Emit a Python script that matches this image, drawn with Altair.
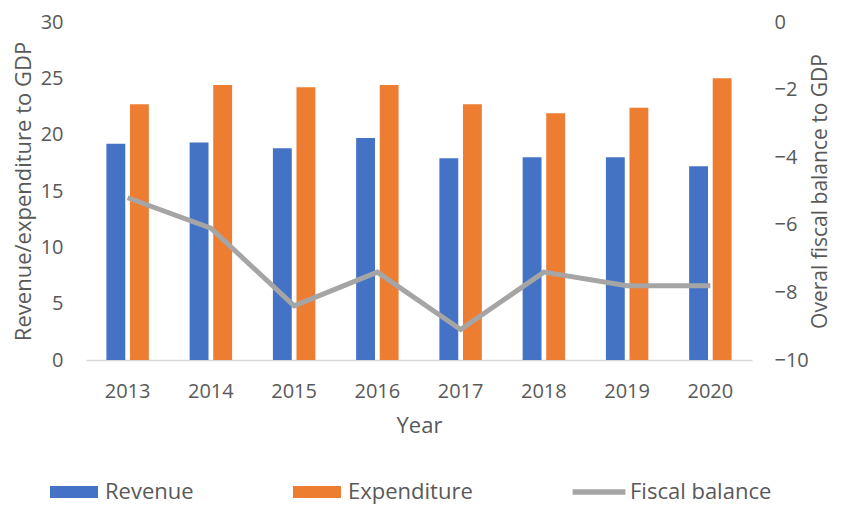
import altair as alt
import pandas as pd

years = ["2013", "2014", "2015", "2016", "2017", "2018", "2019", "2020"]
revenue = [19.2, 19.3, 18.8, 19.7, 17.9, 18.0, 18.0, 17.2]
expenditure = [22.7, 24.4, 24.2, 24.4, 22.7, 21.9, 22.4, 25.0]
fiscal_balance = [-5.2, -6.1, -8.4, -7.4, -9.1, -7.4, -7.8, -7.8]
series = ["Revenue", "Expenditure", "Fiscal balance"]
colors = ["#4472C4", "#ED7D31", "#A5A5A5"]
left_ticks = [0, 5, 10, 15, 20, 25, 30]
right_ticks = [-10, -8, -6, -4, -2, 0]

RECT = "M-1,-0.25H1V0.25H-1Z"
LINE = "M-1.1,-0.11H1.1V0.11H-1.1Z"

bars_df = pd.DataFrame({
    "Year": years * 2,
    "Series": ["Revenue"] * len(years) + ["Expenditure"] * len(years),
    "Value": revenue + expenditure,
})
line_df = pd.DataFrame({"Year": years, "Series": ["Fiscal balance"] * len(years), "Value": fiscal_balance})

FONT = "Open Sans"
TXT = "#595959"
H = 338

color_scale = alt.Scale(domain=series, range=colors)

x_enc = alt.X(
    "Year:N",
    scale=alt.Scale(paddingInner=0.49, paddingOuter=0.245),
    axis=alt.Axis(title="Year", labelAngle=0, ticks=False, domainColor="#D9D9D9",
                  domainWidth=1.5, labelPadding=21, titlePadding=14),
)

bars = alt.Chart(bars_df).mark_bar().encode(
    x=x_enc,
    xOffset=alt.XOffset("Series:N", sort=["Revenue", "Expenditure"],
                        scale=alt.Scale(domain=["Revenue", "Expenditure"], paddingInner=0.2, paddingOuter=0)),
    y=alt.Y("Value:Q", scale=alt.Scale(domain=[0, 30]),
            axis=alt.Axis(values=left_ticks, title="Revenue/expenditure to GDP", grid=False,
                          domain=False, ticks=False, labelPadding=23, titlePadding=5)),
    color=alt.Color("Series:N", scale=color_scale, title=None),
)

line = alt.Chart(line_df).mark_line(strokeWidth=5, color="#A5A5A5").encode(
    x=alt.X("Year:N"),
    y=alt.Y("Value:Q", scale=alt.Scale(domain=[-10, 0]),
            axis=alt.Axis(orient="right", values=right_ticks, title="Overal fiscal balance to GDP",
                          grid=False, domain=False, ticks=False, labelPadding=22, titlePadding=1,
                          titleAngle=270, titleBaseline="top", titleFontSize=21)),
    color=alt.Color("Series:N", scale=color_scale, title=None),
)

legend_pts = alt.Chart(line_df).mark_point(filled=True, opacity=0).encode(
    x=alt.X("Year:N"),
    y=alt.Y("Value:Q", scale=alt.Scale(domain=[-10, 0]), axis=None),
    color=alt.Color("Series:N", scale=color_scale, title=None),
    shape=alt.Shape("Series:N", scale=alt.Scale(domain=series, range=[RECT, RECT, LINE]), title=None),
)

chart = alt.layer(bars, line, legend_pts).resolve_scale(y="independent").properties(
    width=666, height=H,
    autosize=alt.AutoSizeParams(type="none"),
    padding={"left": 78, "top": 14, "right": 82, "bottom": 150},
).configure_view(stroke=None).configure_axis(
    labelFont=FONT, titleFont=FONT, labelFontSize=20, titleFontSize=22,
    labelColor=TXT, titleColor=TXT, titleFontWeight="normal",
).configure_legend(
    orient="none", legendX=-36, legendY=H + 108, direction="horizontal",
    symbolSize=2304, symbolStrokeWidth=0, labelFont=FONT, labelFontSize=22, labelColor=TXT,
    labelOffset=7, columnPadding=99, symbolOpacity=1,
)

chart.save("out.html", embed_options={"renderer": "svg", "actions": False})
